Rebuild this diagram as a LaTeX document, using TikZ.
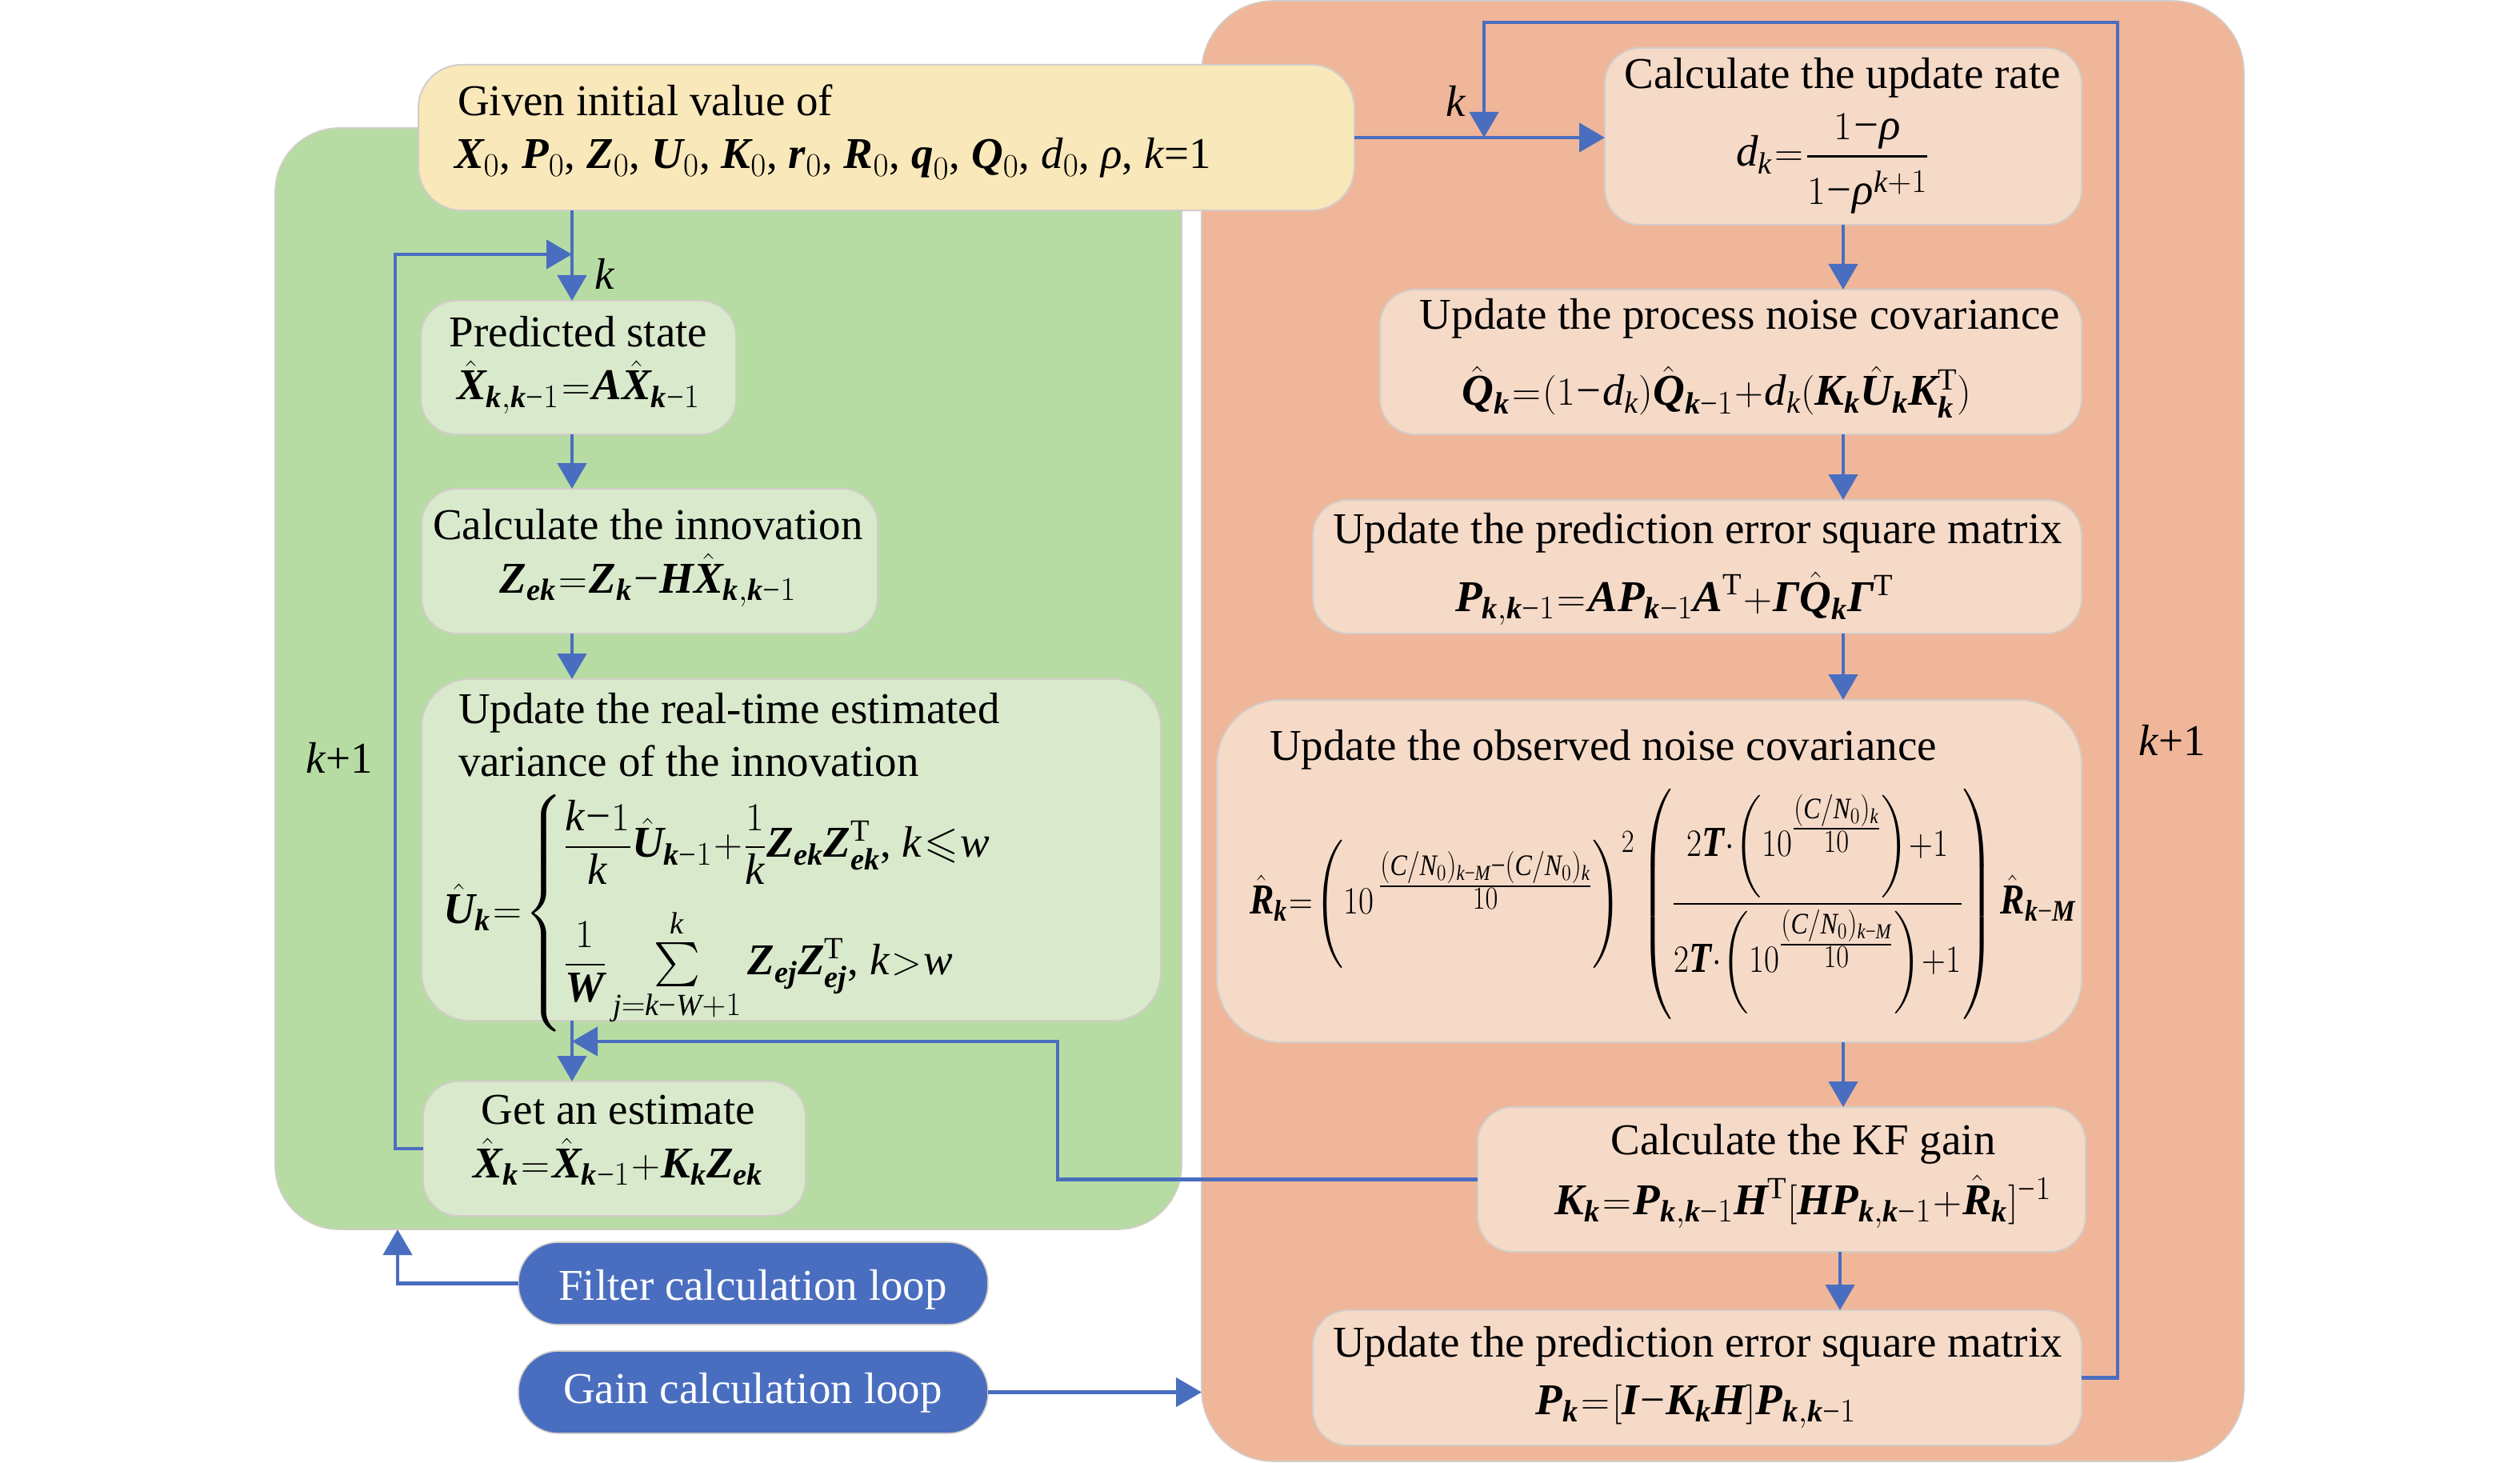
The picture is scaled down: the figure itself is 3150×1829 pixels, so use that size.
\documentclass[tikz,border=0pt]{standalone}
\usepackage{amsmath,amssymb}
\usepackage{fontspec}
\setmainfont{Liberation Serif}
\usetikzlibrary{arrows.meta,fit}
\definecolor{greenbg}{HTML}{B6DCA4}
\definecolor{greenbox}{HTML}{D9EACC}
\definecolor{yellowbox}{HTML}{F9E8BA}
\definecolor{orangebg}{HTML}{F0B699}
\definecolor{orangebox}{HTML}{F6DAC8}
\definecolor{flowblue}{HTML}{4A6EBF}
\definecolor{edgegray}{HTML}{D2CDC8}
\newcommand{\B}[1]{\text{\bfseries\itshape #1}}
\newcommand{\I}[1]{\text{\itshape #1}}
\newcommand{\mi}{\mathbin{\text{−}}}
\newcommand{\Tr}{\text{T}}
\newcommand{\kk}{\I{k}}
\newcommand{\bk}{\B{k}}
\newcommand{\bkm}{\B{k}\mi1}
\newcommand{\bkkm}{\B{k},\B{k}\mi1}
\newcommand{\CN}[1]{(\I{C}/\I{N}_0)_{#1}}
\thickmuskip=1mu\relax
\medmuskip=0.5mu\relax
\begin{document}
\begin{tikzpicture}[x=0.5pt,y=-0.5pt,
  font=\fontsize{27.5}{33}\selectfont,
  every node/.style={inner sep=0pt, outer sep=0pt},
  panel/.style={draw=edgegray, line width=0.8pt, rounded corners=#1},
  boxg/.style={fill=greenbox, draw=edgegray, line width=1pt, rounded corners=#1},
  boxo/.style={fill=orangebox, draw=edgegray, line width=1pt, rounded corners=#1},
  boxy/.style={fill=yellowbox, draw=edgegray, line width=1pt, rounded corners=#1},
  pill/.style={fill=flowblue, draw=edgegray, line width=0.8pt, rounded corners=25pt},
  txt/.style={anchor=base},
  arr/.style={draw=flowblue, line width=2.3pt, -{Triangle[length=16pt,width=18pt]}}]
\useasboundingbox (0,0) rectangle (3150,1829);
% panels
\node[panel=40pt, fill=greenbg, fit={(344,160) (1477,1537)}] (gpanel) {};
\node[panel=45pt, fill=orangebg, fit={(1502,1) (2805,1827)}] (opanel) {};
% boxes
\node[boxy=27pt, fit={(523,81) (1693,263)}] (yellow) {};
\node[boxg=22pt, fit={(526,376) (920,543)}] (pred) {};
\node[boxg=22pt, fit={(527,611) (1097,792)}] (innov) {};
\node[boxg=30pt, fit={(527,849) (1451,1276)}] (var) {};
\node[boxg=22pt, fit={(529,1352) (1007,1520)}] (est) {};
\node[pill, fit={(648,1553) (1235,1656)}] (filt) {};
\node[pill, fit={(648,1689) (1235,1792)}] (gain) {};
\node[boxo=22pt, fit={(2006,60) (2602,281)}] (rate) {};
\node[boxo=22pt, fit={(1725,362) (2602,543)}] (proc) {};
\node[boxo=22pt, fit={(1641,625) (2602,792)}] (perr) {};
\node[boxo=40pt, fit={(1521,875) (2602,1303)}] (obs) {};
\node[boxo=22pt, fit={(1847,1384) (2607,1565)}] (kf) {};
\node[boxo=22pt, fit={(1641,1638) (2602,1807)}] (fin) {};
% helper coordinates
\coordinate (colL) at (715,0);
\coordinate (colR) at (2304,0);
\coordinate (loopL) at (494,0);
\coordinate (junL) at (715,318);
\coordinate (loopR) at (2647,28);
\coordinate (junR) at (1855,172);
\coordinate (fbx) at (1322,1302);
\coordinate (fbend) at (715,1302);
\coordinate (filtx) at (497,0);
% connectors
\draw[arr] (yellow.south -| colL) -- (pred.north -| colL);
\draw[arr] (est.west) -- (est.west -| loopL) -- (loopL |- junL) -- (junL);
\draw[arr] (pred.south -| colL) -- (innov.north -| colL);
\draw[arr] (innov.south -| colL) -- (var.north -| colL);
\draw[arr] (var.south -| colL) -- (est.north -| colL);
\draw[arr] (kf.west) -- (kf.west -| fbx) -- (fbx) -- (fbend);
\draw[arr] (filt.west) -- (filt.west -| filtx) -- (gpanel.south -| filtx);
\draw[arr] (gain.east) -- (gain.east -| opanel.west);
\draw[arr] (yellow.east) -- (yellow.east -| rate.west);
\draw[arr] (fin.east) -- (fin.east -| loopR) -- (loopR) -- (loopR -| junR) -- (junR);
\draw[arr] (rate.south -| colR) -- (proc.north -| colR);
\draw[arr] (proc.south -| colR) -- (perr.north -| colR);
\draw[arr] (perr.south -| colR) -- (obs.north -| colR);
\draw[arr] (obs.south -| colR) -- (kf.north -| colR);
\draw[arr] ([xshift=-2pt]kf.south -| colR) -- ([xshift=-2pt]fin.north -| colR);
% texts
\node[txt, anchor=base west] (ty1) at (572,145) {Given initial value of};
\node[txt, anchor=base west] (ty2) at (568,211) {$\B{X}_0$, $\B{P}_0$, $\B{Z}_0$, $\B{U}_0$, $\B{K}_0$, $\B{r}_0$, $\B{R}_0$, $\B{q}_0$, $\B{Q}_0$, $\I{d}_0$, \textit{ρ}, \textit{k}=1};
\node[txt] (tp1) at (723,434) {Predicted state};
\node[txt] (tp2) at (723,500) {$\hat{\B{X}}_{\bkkm}=\B{A}\hat{\B{X}}_{\bkm}$};
\node[txt] (ti1) at (810,674) {Calculate the innovation};
\node[txt] (ti2) at (810,741) {$\B{Z}_{\B{ek}}=\B{Z}_{\bk}\mi\B{H}\hat{\B{X}}_{\bkkm}$};
\node[txt, anchor=base west] (tv1) at (573,904) {Update the real-time estimated};
\node[txt, anchor=base west] (tv2) at (573,970) {variance of the innovation};
\node[txt, anchor=base west] (tv3) at (554,1154) {$\hat{\B{U}}_{\bk}=\begin{cases}
\dfrac{\kk\mi1}{\kk}\hat{\B{U}}_{\bkm}+\dfrac{1}{\kk}\B{Z}_{\B{ek}}\B{Z}_{\B{ek}}^{\Tr}\text{, }\kk\leqslant\I{w}\\[20pt]
\dfrac{1}{\B{W}}\sum\limits_{\I{j}=\kk\mi\I{W}+1}^{\kk}\B{Z}_{\B{ej}}\B{Z}_{\B{ej}}^{\Tr}\text{, }\kk>\I{w}
\end{cases}$};
\node[txt] (te1) at (773,1405) {Get an estimate};
\node[txt] (te2) at (773,1472) {$\hat{\B{X}}_{\bk}=\hat{\B{X}}_{\bkm}+\B{K}_{\bk}\B{Z}_{\B{ek}}$};
\node[txt, text=white] (tf) at (941,1625) {Filter calculation loop};
\node[txt, text=white] (tg) at (941,1754) {Gain calculation loop};
\node[txt] (tr1) at (2303,111) {Calculate the update rate};
\node[txt, anchor=base west] (tr2) at (2170,208) {$\I{d}_{\kk}=\dfrac{1\mi\I{ρ}\rule[-6pt]{0pt}{10pt}}{\rule{0pt}{26pt}1\mi\I{ρ}^{\kk+1}}$};
\node[txt] (tq1) at (2175,412) {Update the process noise covariance};
\node[txt] (tq2) at (2146,507) {$\hat{\B{Q}}_{\bk}=(1\mi\I{d}_{\kk})\hat{\B{Q}}_{\bkm}+\I{d}_{\kk}(\B{K}_{\bk}\hat{\B{U}}_{\bk}\B{K}_{\bk}^{\Tr})$};
\node[txt] (tpe1) at (2122,679) {Update the prediction error square matrix};
\node[txt, anchor=base west] (tpe2) at (1819,764) {$\B{P}_{\bkkm}=\B{A}\B{P}_{\bkm}\B{A}^{\Tr}+\B{Γ}\hat{\B{Q}}_{\bk}\B{Γ}^{\Tr}$};
\node[txt, anchor=base west] (to1) at (1587,950) {Update the observed noise covariance};
\node[txt, anchor=west] (to2) at (1562,1130) {\scalebox{0.83}[0.97]{$\hat{\B{R}}_{\bk}=\Biggl(10^{\,\tfrac{\CN{\kk\mi\I{M}}\mi\CN{\kk}}{10}}\Biggr)^{2}\left(\dfrac{2\B{T}\cdot\biggl(10^{\tfrac{\CN{\kk}}{10}}\biggr)+1}{2\B{T}\cdot\biggl(10^{\tfrac{\CN{\kk\mi\I{M}}}{10}}\biggr)+1}\right)\hat{\B{R}}_{\bk\mi\B{M}}$}};
\node[txt] (tk1) at (2254,1443) {Calculate the KF gain};
\node[txt] (tk2) at (2254,1518) {$\B{K}_{\bk}=\B{P}_{\bkkm}\B{H}^{\Tr}[\B{H}\B{P}_{\bkkm}+\hat{\B{R}}_{\bk}]^{\mi1}$};
\node[txt] (tfn1) at (2122,1696) {Update the prediction error square matrix};
\node[txt] (tfn2) at (2120,1768) {$\B{P}_{\bk}=[\B{I}\mi\B{K}_{\bk}\B{H}]\B{P}_{\bkkm}$};
% loop labels
\node[txt, anchor=base west] (lk1) at (743,362) {\textit{k}};
\node[txt, anchor=base west] (lk2) at (382,966) {\textit{k}+1};
\node[txt, anchor=base west] (lk3) at (1807,146) {\textit{k}};
\node[txt, anchor=base west] (lk4) at (2673,944) {\textit{k}+1};
\end{tikzpicture}
\end{document}
